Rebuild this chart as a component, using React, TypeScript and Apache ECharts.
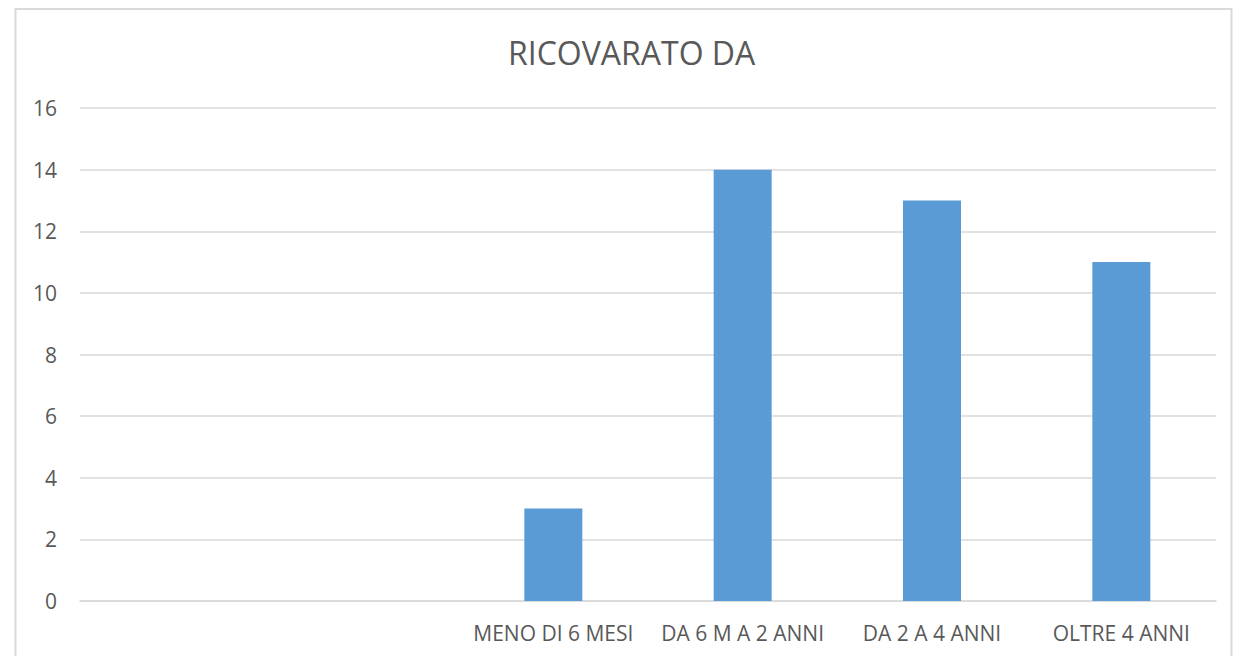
import React, { useEffect, useRef } from "react";
import * as echarts from "echarts";

const categories = ["", "", "MENO DI 6 MESI", "DA 6 M A 2 ANNI", "DA 2 A 4 ANNI", "OLTRE 4 ANNI"];
const values: (number | null)[] = [null, null, 3, 14, 13, 11];
const chartTitle = "RICOVARATO DA";

export default function App() {
  const ref = useRef<HTMLDivElement>(null);
  useEffect(() => {
    if (!ref.current) return;
    const chart = echarts.init(ref.current, undefined, { renderer: "svg" });
    chart.setOption({
      animation: false,
      backgroundColor: "#ffffff",
      title: {
        text: chartTitle,
        left: 503,
        top: 31,
        textStyle: { fontFamily: "Open Sans", fontSize: 32, fontWeight: "normal", color: "#595959" },
      },
      graphic: [
        {
          type: "rect",
          shape: { x: 15.5, y: 9, width: 1216, height: 700 },
          style: { fill: "none", stroke: "#d9d9d9", lineWidth: 2 },
          silent: true,
        },
      ],
      grid: { left: 80, right: 18, top: 108, bottom: 55 },
      xAxis: {
        type: "category",
        data: categories,
        axisLine: { show: true, lineStyle: { color: "#d9d9d9", width: 1.5 } },
        axisTick: { show: false },
        axisLabel: {
          interval: 0,
          margin: 21,
          color: "#595959",
          fontSize: 21,
          fontFamily: "Open Sans",
        },
      },
      yAxis: {
        type: "value",
        min: 0,
        max: 16,
        interval: 2,
        axisLine: { show: false },
        axisTick: { show: false },
        splitLine: { lineStyle: { color: "#d9d9d9", width: 1.5 } },
        axisLabel: { color: "#595959", fontSize: 21, fontFamily: "Open Sans", margin: 23 },
      },
      series: [
        {
          type: "bar",
          data: values,
          barWidth: 58,
          itemStyle: { color: "#5b9bd5" },
        },
      ],
    });
    return () => chart.dispose();
  }, []);
  return (
    <div
      ref={ref}
      style={{ position: "fixed", left: 0, top: 0, width: 1234, height: 656 }}
    />
  );
}
